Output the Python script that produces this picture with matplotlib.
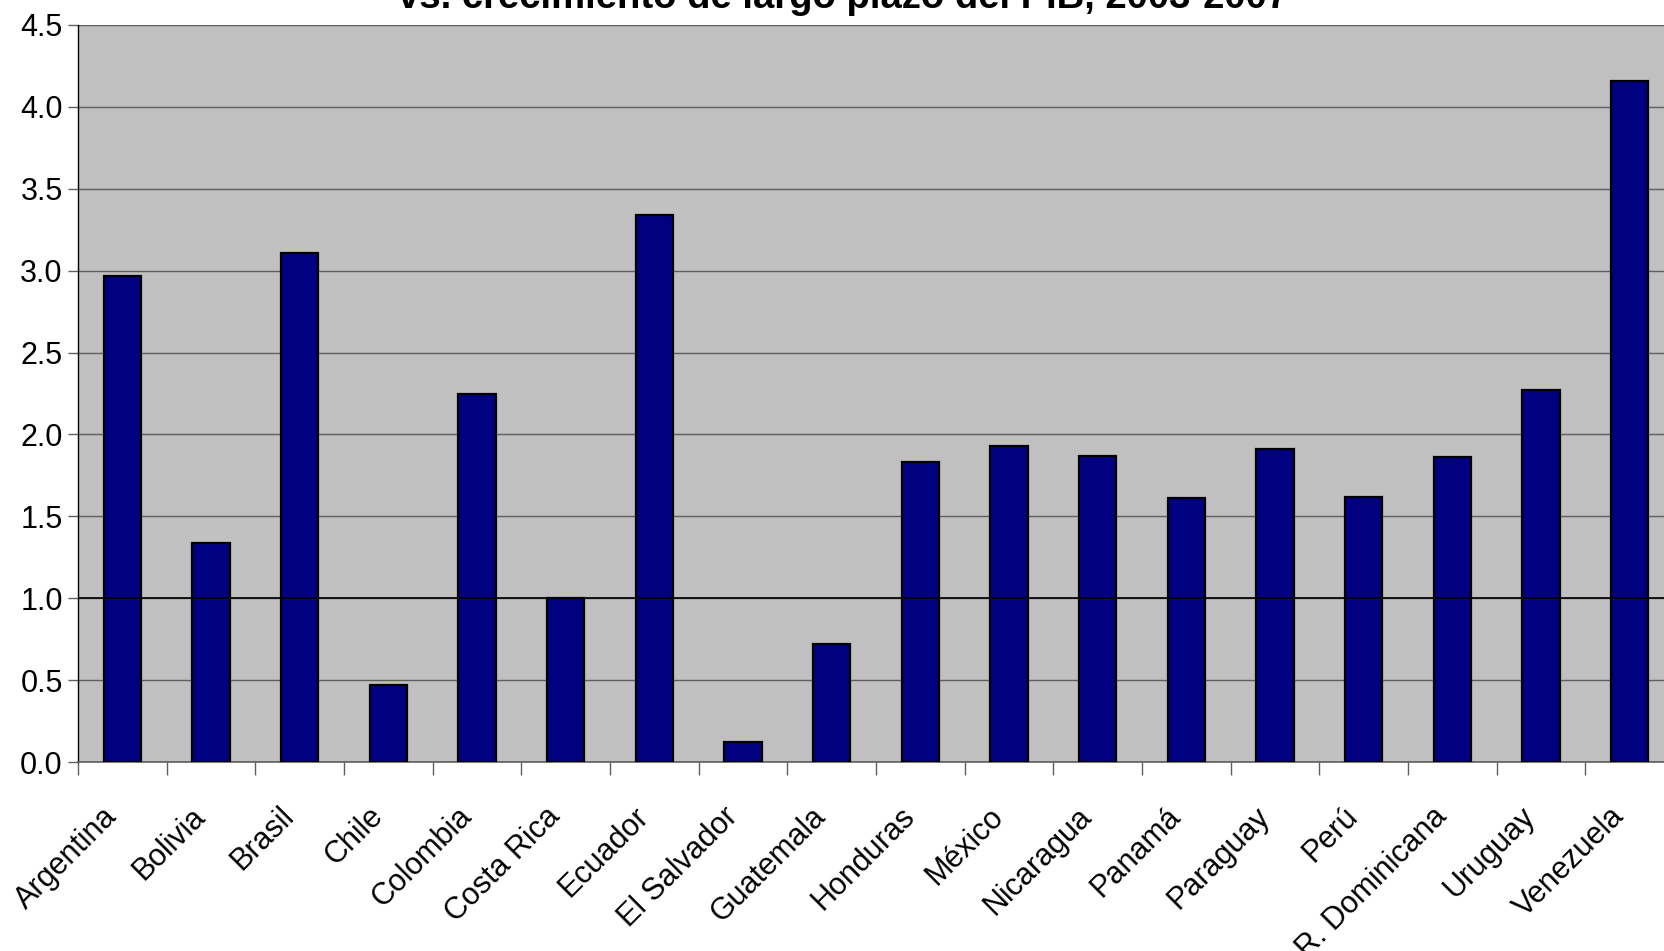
import numpy as np
import matplotlib
matplotlib.use('Agg')
import matplotlib.pyplot as plt
import matplotlib.transforms as mtransforms

# ── Data ──
paises = ['Argentina', 'Bolivia', 'Brasil', 'Chile', 'Colombia', 'Costa Rica',
          'Ecuador', 'El Salvador', 'Guatemala', 'Honduras', 'México',
          'Nicaragua', 'Panamá', 'Paraguay', 'Perú', 'R. Dominicana',
          'Uruguay', 'Venezuela']
valores = [2.97, 1.34, 3.11, 0.47, 2.25, 1.00, 3.34, 0.12, 0.72, 1.83, 1.93,
           1.87, 1.61, 1.91, 1.62, 1.86, 2.27, 4.16]
yticks = [0.0, 0.5, 1.0, 1.5, 2.0, 2.5, 3.0, 3.5, 4.0, 4.5]
titulo = 'vs. crecimiento de largo plazo del PIB, 2003-2007'

plt.rcParams['font.family'] = ['Liberation Sans', 'DejaVu Sans']

W, H = 1664, 951
fig = plt.figure(figsize=(W / 100, H / 100), dpi=100)
ax = fig.add_axes([78 / W, (H - 762) / H, (1674 - 78) / W, (762 - 25) / H])
ax.set_facecolor('#C0C0C0')

x = np.arange(len(paises))
ax.set_axisbelow(True)
ax.yaxis.grid(True, color='#5F5F5F', lw=1.0)
ax.bar(x, valores, width=0.42, color='#000080', edgecolor='black', lw=1.6, zorder=3)
ax.axhline(1.0, color='black', lw=1.2, zorder=4)

ax.set_xlim(-0.5, len(paises) - 0.5)
ax.set_ylim(0, 4.5)
ax.set_yticks(yticks)
ax.set_yticklabels([f'{v:.1f}' for v in yticks], fontsize=22)
ax.tick_params(axis='y', length=7, width=1, color='#5F5F5F', pad=4)

# category labels at centres, tick marks at category boundaries
ax.set_xticks(x)
ax.set_xticklabels(paises, fontsize=22, rotation=45, ha='right', va='center',
                   rotation_mode='anchor')
ax.tick_params(axis='x', which='major', length=0, pad=36)
ax.set_xticks(np.arange(len(paises) + 1) - 0.5, minor=True)
ax.tick_params(axis='x', which='minor', length=9, width=1, color='#5F5F5F')
shift = mtransforms.ScaledTranslation(-10 / 100, 0, fig.dpi_scale_trans)
for lbl in ax.get_xticklabels():
    lbl.set_transform(lbl.get_transform() + shift)

for s in ['top', 'right']:
    ax.spines[s].set_visible(False)
ax.spines['left'].set_color('black')
ax.spines['left'].set_linewidth(1.0)
ax.spines['bottom'].set_color('#5F5F5F')
ax.spines['bottom'].set_linewidth(1.2)

fig.text(843 / W, 1 - 7.5 / H, titulo, ha='center', va='baseline',
         fontsize=27.5, fontweight='bold')

fig.savefig('out.png', dpi=100)
